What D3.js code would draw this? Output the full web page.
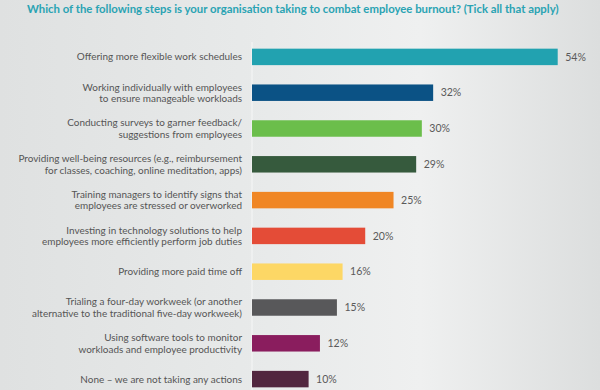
<!DOCTYPE html>
<html>
<head>
<meta charset="utf-8">
<script src="https://cdn.jsdelivr.net/npm/d3@7"></script>
<style>
  html, body { margin: 0; padding: 0; background: #e4e6e6; }
  svg { display: block; }
</style>
</head>
<body>
<svg id="chart" width="600" height="390"></svg>
<script>
const titleText = "Which of the following steps is your organisation taking to combat employee burnout? (Tick all that apply)";
const categories = [
  ["Offering more flexible work schedules"],
  ["Working individually with employees", "to ensure manageable workloads"],
  ["Conducting surveys to garner feedback/", "suggestions from employees"],
  ["Providing well-being resources (e.g., reimbursement", "for classes, coaching, online meditation, apps)"],
  ["Training managers to identify signs that", "employees are stressed or overworked"],
  ["Investing in technology solutions to help", "employees more efficiently perform job duties"],
  ["Providing more paid time off"],
  ["Trialing a four-day workweek (or another", "alternative to the traditional five-day workweek)"],
  ["Using software tools to monitor", "workloads and employee productivity"],
  ["None \u2013 we are not taking any actions"]
];
const values = [54, 32, 30, 29, 25, 20, 16, 15, 12, 10];
const colors = ["#22a2b0", "#0b5285", "#6bbe4b", "#365a3d", "#f08624", "#e44c37", "#fdd765", "#58585a", "#8a1d5e", "#52263f"];

const W = 600, H = 390;
const FONT = "Lato, 'Open Sans', sans-serif";
const svg = d3.select("#chart");

// background gradient
const defs = svg.append("defs");
const bg = defs.append("linearGradient").attr("id", "bg").attr("x1", "0").attr("x2", "1").attr("y1", "0").attr("y2", "0");
bg.append("stop").attr("offset", "0%").attr("stop-color", "#dfe1e1");
bg.append("stop").attr("offset", "45%").attr("stop-color", "#e8eaea");
bg.append("stop").attr("offset", "70%").attr("stop-color", "#eff0f0");
bg.append("stop").attr("offset", "100%").attr("stop-color", "#dcdede");
svg.append("rect").attr("width", W).attr("height", H).attr("fill", "url(#bg)");

const ids = categories.map((c, i) => i);
const x = d3.scaleLinear().domain([0, 54]).range([252, 557.7]);
const y = d3.scaleBand().domain(ids).range([39, 397]).paddingInner(0.54).paddingOuter(0.27);

// faint axis line
svg.append("line")
  .attr("x1", x(0)).attr("x2", x(0))
  .attr("y1", 42).attr("y2", H)
  .attr("stroke", "#f6f7f7").attr("stroke-width", 1);

// helper: fit a font size so a sample string has a target width
function fitSize(sample, target, base, weight) {
  const t = svg.append("text").attr("font-family", FONT).attr("font-size", base)
    .attr("font-weight", weight).text(sample);
  const w = t.node().getComputedTextLength();
  t.remove();
  return base * target / w;
}

// title
svg.append("text")
  .attr("x", 27).attr("y", 13)
  .attr("fill", "#2aa3b3")
  .attr("font-family", FONT)
  .attr("font-weight", 700)
  .attr("font-size", fitSize(titleText, 532, 12, 700))
  .text(titleText);

// bars
svg.append("g").selectAll("rect")
  .data(values)
  .join("rect")
  .attr("x", x(0))
  .attr("y", (d, i) => y(i))
  .attr("width", d => x(d) - x(0))
  .attr("height", y.bandwidth())
  .attr("fill", (d, i) => colors[i]);

// value labels
const valSize = fitSize("54%", 20.7, 11, 400);
svg.append("g").selectAll("text")
  .data(values)
  .join("text")
  .attr("x", d => x(d) + 7.5)
  .attr("y", (d, i) => y(i) + y.bandwidth() / 2)
  .attr("dy", "0.36em")
  .attr("fill", "#5a5a5a")
  .attr("font-family", FONT)
  .attr("font-size", valSize)
  .text(d => d + "%");

// category labels
const labSize = fitSize("Working individually with employees", 159.6, 10, 400);
const lh = 11.5;
const lab = svg.append("g").selectAll("text")
  .data(categories)
  .join("text")
  .attr("text-anchor", "end")
  .attr("fill", "#555")
  .attr("font-family", FONT)
  .attr("font-size", labSize)
  .attr("y", (d, i) => y(i) + y.bandwidth() / 2 - (d.length - 1) * lh / 2);
lab.selectAll("tspan")
  .data(d => d)
  .join("tspan")
  .attr("x", 242)
  .attr("dy", (d, j) => j === 0 ? "0.36em" : lh)
  .text(d => d);
</script>
</body>
</html>
